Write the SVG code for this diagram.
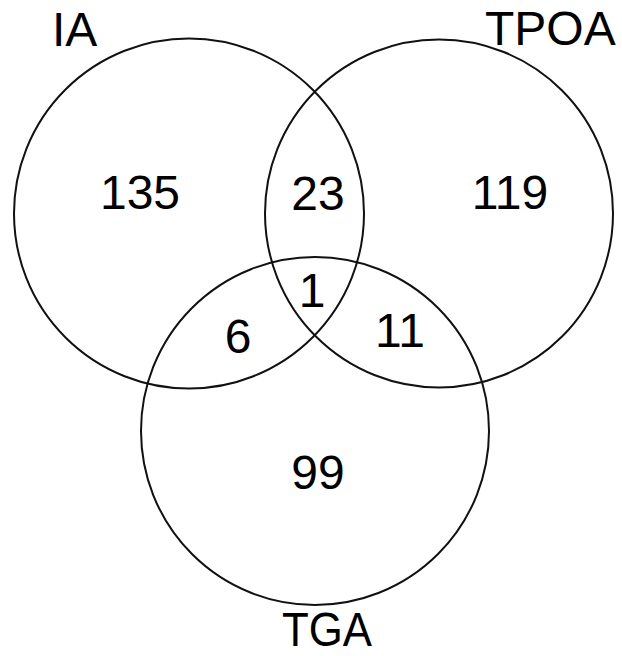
<svg xmlns="http://www.w3.org/2000/svg" width="622" height="656" viewBox="0 0 622 656">
  <style>
    .set { fill: none; stroke: #111; stroke-width: 2; }
    .label { font-family: "Liberation Sans", Arial, sans-serif; font-size: 48px; fill: #000; }
    .count { font-family: "Liberation Sans", Arial, sans-serif; font-size: 48px; fill: #000; text-anchor: middle; }
  </style>
  <rect width="622" height="656" fill="#fff"/>

  <!-- set circles -->
  <g id="set-IA">
    <circle class="set" cx="189" cy="213.5" r="175"/>
    <text class="label" x="52" y="46">IA</text>
  </g>
  <g id="set-TPOA">
    <circle class="set" cx="439" cy="213.5" r="174"/>
    <text class="label" x="485" y="45">TPOA</text>
  </g>
  <g id="set-TGA">
    <circle class="set" cx="315" cy="431" r="174"/>
    <text class="label" x="282" y="646" font-size="46" textLength="90" lengthAdjust="spacingAndGlyphs">TGA</text>
  </g>

  <!-- region counts -->
  <g id="counts">
    <text class="count" x="140" y="209">135</text>
    <text class="count" x="318" y="210">23</text>
    <text class="count" x="510" y="209">119</text>
    <text class="count" x="312" y="307">1</text>
    <text class="count" x="238" y="353">6</text>
    <text class="count" x="400" y="347">11</text>
    <text class="count" x="318" y="489">99</text>
  </g>

  <!-- no connectors in this diagram -->
  <g id="connectors"/>
</svg>
